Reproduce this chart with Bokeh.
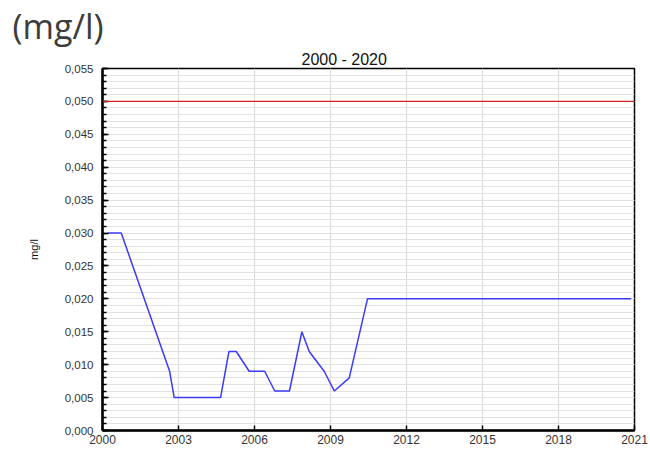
from bokeh.plotting import figure
from bokeh.models import FixedTicker, Span, Title, CustomJSTickFormatter, Range1d
from bokeh.embed import file_html
from bokeh.resources import INLINE
import numpy as np

# data
years = [2000.2, 2000.74, 2002.65, 2002.83, 2004.66, 2004.99, 2005.28, 2005.79,
         2006.4, 2006.8, 2007.38, 2007.87, 2008.16, 2008.75, 2009.15, 2009.74,
         2010.46, 2020.87]
values = [0.030, 0.030, 0.009, 0.005, 0.005, 0.012, 0.012, 0.009,
          0.009, 0.006, 0.006, 0.015, 0.012, 0.009, 0.006, 0.008,
          0.020, 0.020]
limit_value = 0.050
x_ticks = [2000, 2003, 2006, 2009, 2012, 2015, 2018, 2021]
y_ticks = [0.000, 0.005, 0.010, 0.015, 0.020, 0.025, 0.030, 0.035, 0.040, 0.045, 0.050, 0.055]
y_minor = [round(v, 3) for v in np.arange(0, 0.0555, 0.001)]

p = figure(width=650, height=449, output_backend="svg", toolbar_location=None,
           x_range=Range1d(2000, 2021), y_range=Range1d(0, 0.055),
           min_border_left=102, min_border_right=16, min_border_bottom=19, min_border_top=67)
p.background_fill_color = "white"
p.border_fill_color = "white"
p.outline_line_color = "black"
p.outline_line_width = 1.5

p.title.text = "(mg/l)"
p.title.align = "left"
p.title.offset = -90
p.title.text_font = "Open Sans"
p.title.text_font_size = "34px"
p.title.text_font_style = "normal"
p.title.text_color = "#3c3c3c"
p.title.text_line_height = 0.6
p.title.standoff = 0

p.add_layout(Title(text="2000 - 2020", align="left", offset=199, text_font="Liberation Sans",
                   text_font_size="16px", text_font_style="normal", text_color="#111111",
                   text_line_height=0.8, standoff=1), "above")

# axes
xa = p.xaxis[0]
xa.ticker = FixedTicker(ticks=x_ticks, minor_ticks=[])
xa.major_tick_in = 5
xa.major_tick_out = 0
xa.minor_tick_in = 0
xa.minor_tick_out = 0
xa.axis_line_width = 2.5
xa.major_tick_line_width = 1.5
xa.major_label_standoff = 4
xa.major_label_text_font = "Liberation Sans"
xa.major_label_text_font_size = "12px"
xa.major_label_text_color = "#333333"

ya = p.yaxis[0]
ya.ticker = FixedTicker(ticks=y_ticks, minor_ticks=y_minor)
ya.formatter = CustomJSTickFormatter(code="return tick.toFixed(3).replace('.', ',');")
ya.major_tick_in = 6
ya.major_tick_out = 0
ya.minor_tick_in = 4
ya.minor_tick_out = 0
ya.axis_line_width = 2.5
ya.major_tick_line_width = 1.5
ya.minor_tick_line_width = 1.5
ya.major_label_standoff = 9
ya.major_label_text_font = "Liberation Sans"
ya.major_label_text_font_size = "11.5px"
ya.major_label_text_color = "#333333"
ya.axis_label = "mg/l"
ya.axis_label_text_font = "Liberation Sans"
ya.axis_label_text_font_size = "11px"
ya.axis_label_text_font_style = "normal"
ya.axis_label_text_color = "#111111"
ya.axis_label_standoff = 22

p.xgrid.ticker = FixedTicker(ticks=x_ticks)
p.xgrid.grid_line_color = "#d8d8d8"
p.ygrid.grid_line_color = "#e2e2e2"
p.ygrid.minor_grid_line_color = "#e2e2e2"
p.ygrid.grid_line_width = 1
p.ygrid.minor_grid_line_width = 1

p.add_layout(Span(location=limit_value, dimension="width", line_color="#d42020", line_width=1.2))
p.line(years, values, line_color="#3a3aff", line_width=1.5)

open("out.html", "w").write(file_html(p, INLINE))
